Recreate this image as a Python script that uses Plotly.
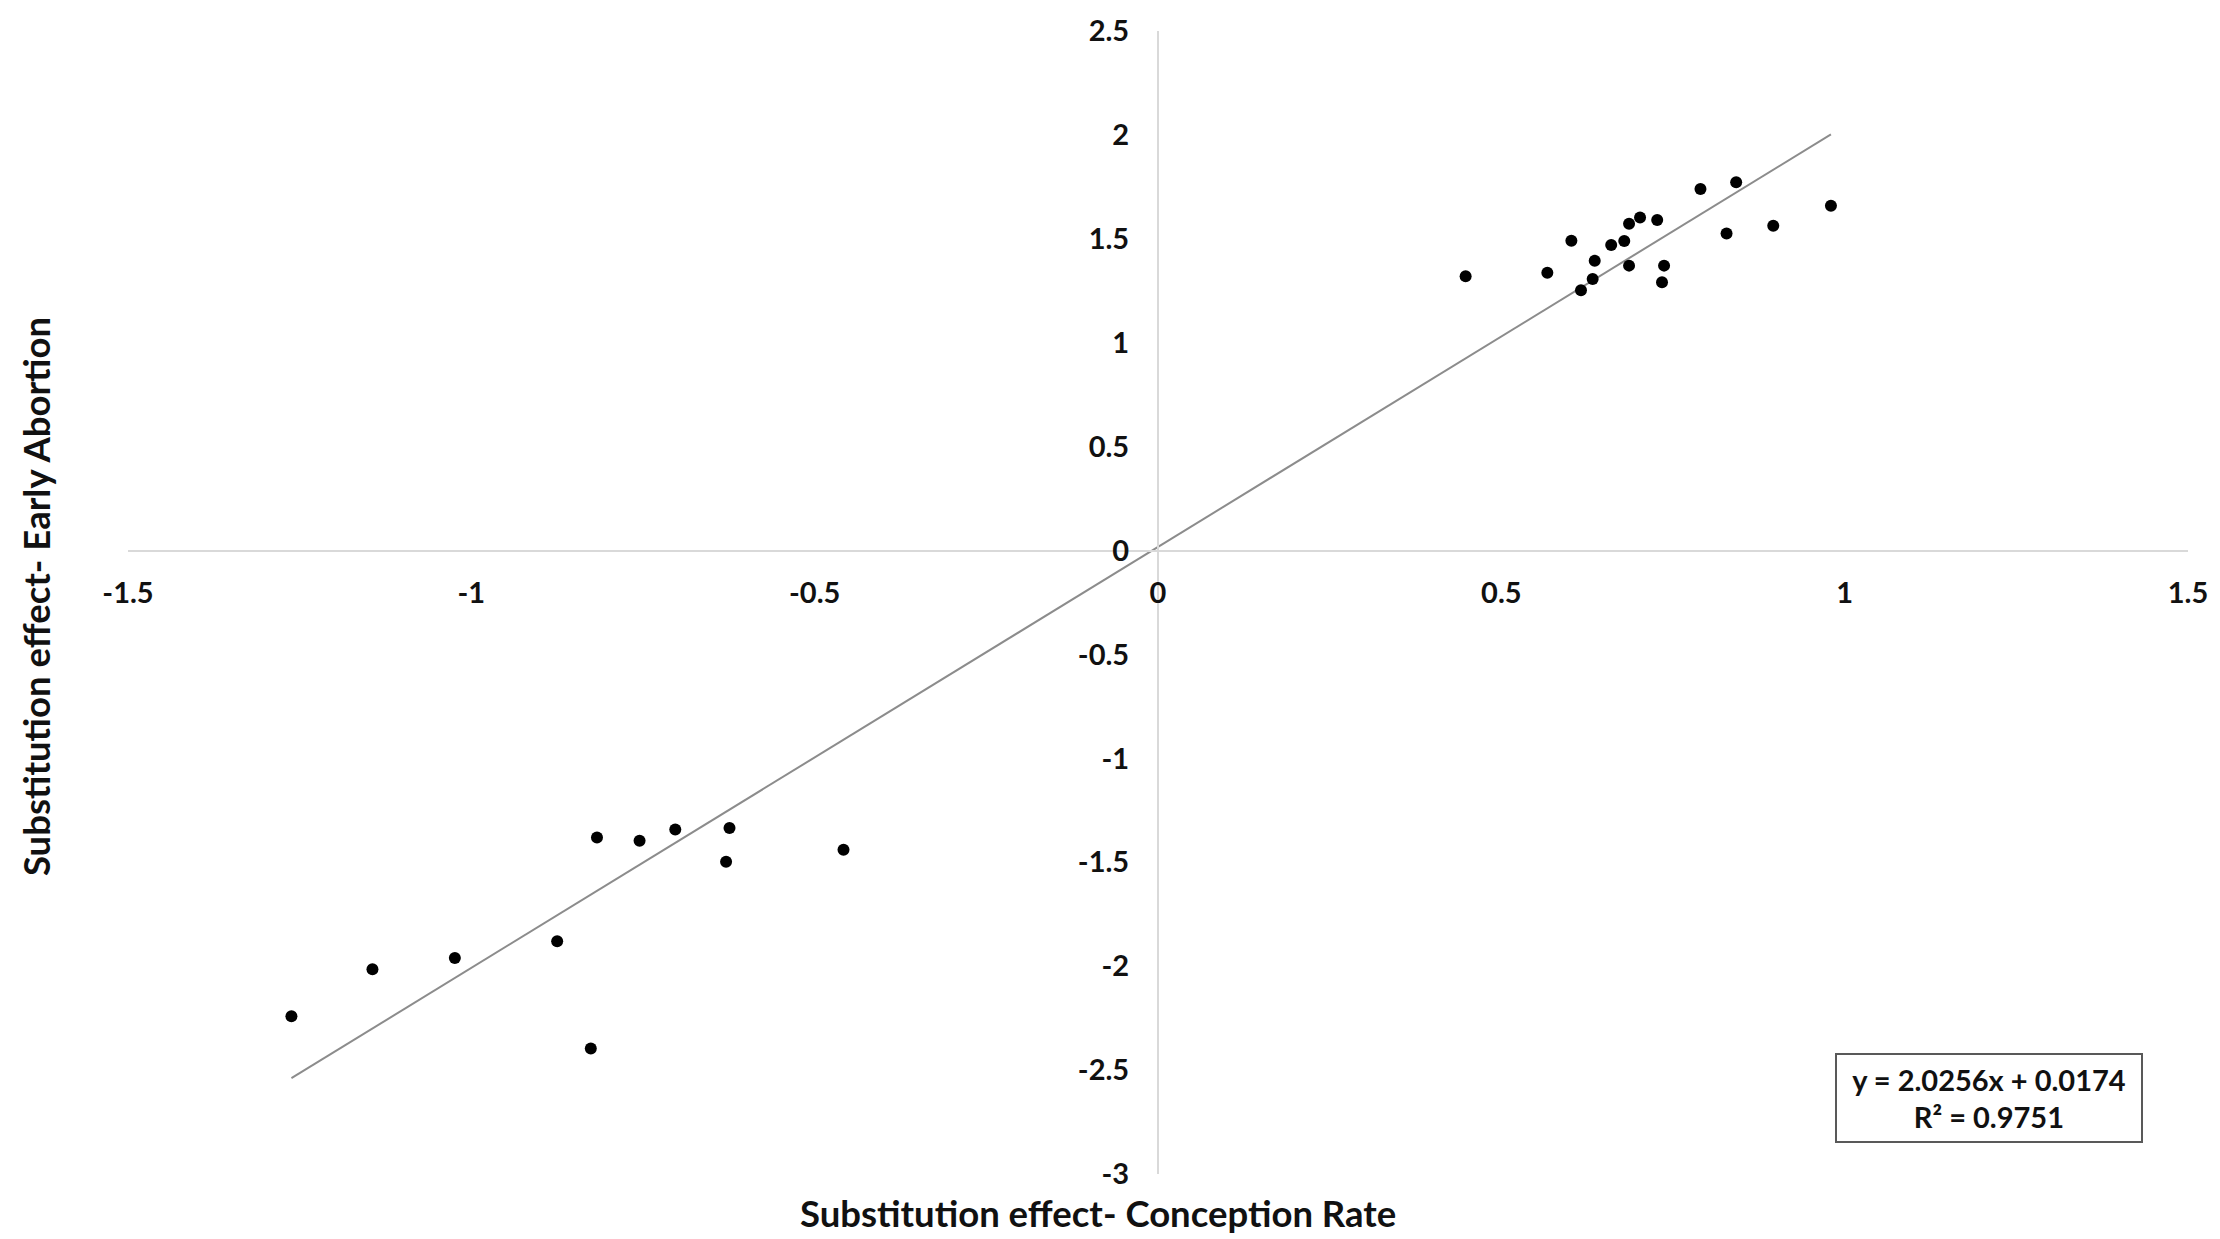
import plotly.graph_objects as go

# ---- data ----
x_conception = [
    0.448, 0.567, 0.602, 0.636, 0.633, 0.616, 0.660, 0.679, 0.686, 0.702,
    0.727, 0.686, 0.737, 0.734, 0.790, 0.842, 0.828, 0.896, 0.980,
    -1.262, -1.144, -1.024, -0.875, -0.826, -0.817, -0.755, -0.703, -0.629, -0.624, -0.458,
]
y_abortion = [
    1.320, 1.337, 1.491, 1.395, 1.307, 1.252, 1.470, 1.489, 1.572, 1.603,
    1.590, 1.371, 1.371, 1.291, 1.740, 1.772, 1.526, 1.563, 1.659,
    -2.241, -2.015, -1.961, -1.880, -2.396, -1.381, -1.396, -1.342, -1.497, -1.335, -1.440,
]

slope = 2.0256
intercept = 0.0174
r_squared = 0.9751

x_tickvals = [-1.5, -1, -0.5, 0, 0.5, 1, 1.5]
x_ticktext = ["-1.5", "-1", "-0.5", "0", "0.5", "1", "1.5"]
y_tickvals = [-3, -2.5, -2, -1.5, -1, -0.5, 0, 0.5, 1, 1.5, 2, 2.5]
y_ticktext = ["-3", "-2.5", "-2", "-1.5", "-1", "-0.5", "0", "0.5", "1", "1.5", "2", "2.5"]

x_range = [-1.5, 1.5]
y_range = [-3, 2.5]

x_title = "Substitution effect- Conception Rate"
y_title = "Substitution effect- Early Abortion"

# ---- figure ----
FONT = "Lato"
TEXT_COLOR = "#111111"
fig = go.Figure()

trend_x = [min(x_conception), max(x_conception)]
trend_y = [slope * v + intercept for v in trend_x]
fig.add_trace(go.Scatter(
    x=trend_x, y=trend_y, mode="lines",
    line=dict(color="#8c8c8c", width=2),
    showlegend=False, hoverinfo="skip",
))

fig.add_trace(go.Scatter(
    x=x_conception, y=y_abortion, mode="markers",
    marker=dict(color="black", size=12),
    showlegend=False,
))

xpos = (0 - y_range[0]) / (y_range[1] - y_range[0])
ypos = (0 - x_range[0]) / (x_range[1] - x_range[0])

tickfont = dict(family=FONT, size=29, color=TEXT_COLOR, weight="bold")

fig.update_layout(
    width=2220, height=1239,
    margin=dict(l=128, r=31, t=28, b=65),
    paper_bgcolor="white", plot_bgcolor="white",
    xaxis=dict(
        range=x_range, tickvals=x_tickvals, ticktext=x_ticktext,
        anchor="free", position=xpos,
        showline=True, linecolor="#d9d9d9", linewidth=2,
        showgrid=False, zeroline=False, ticks="",
        tickfont=tickfont, ticklabelstandoff=17,
    ),
    yaxis=dict(
        range=y_range, tickvals=y_tickvals, ticktext=y_ticktext,
        anchor="free", position=ypos,
        showline=True, linecolor="#d9d9d9", linewidth=2,
        showgrid=False, zeroline=False, ticks="",
        tickfont=tickfont, ticklabelstandoff=22,
    ),
    annotations=[
        dict(
            text=x_title, xref="paper", yref="paper",
            x=0.471, y=-0.0345, xanchor="center", yanchor="middle",
            showarrow=False,
            font=dict(family=FONT, size=36.5, color=TEXT_COLOR, weight="bold"),
        ),
        dict(
            text=y_title, xref="paper", yref="paper",
            x=-0.045, y=0.505, xanchor="center", yanchor="middle",
            textangle=-90, showarrow=False,
            font=dict(family=FONT, size=36.5, color=TEXT_COLOR, weight="bold"),
        ),
        dict(
            text=f"y = {slope}x + {intercept}<br>R\u00b2 = {r_squared}",
            xref="paper", yref="paper",
            x=0.9034, y=0.0663, xanchor="center", yanchor="middle",
            showarrow=False, align="center",
            width=300, height=82,
            bordercolor="#595959", borderwidth=2, borderpad=2,
            bgcolor="white",
            font=dict(family=FONT, size=29, color=TEXT_COLOR, weight="bold"),
        ),
    ],
)

fig.write_html("out.html")
